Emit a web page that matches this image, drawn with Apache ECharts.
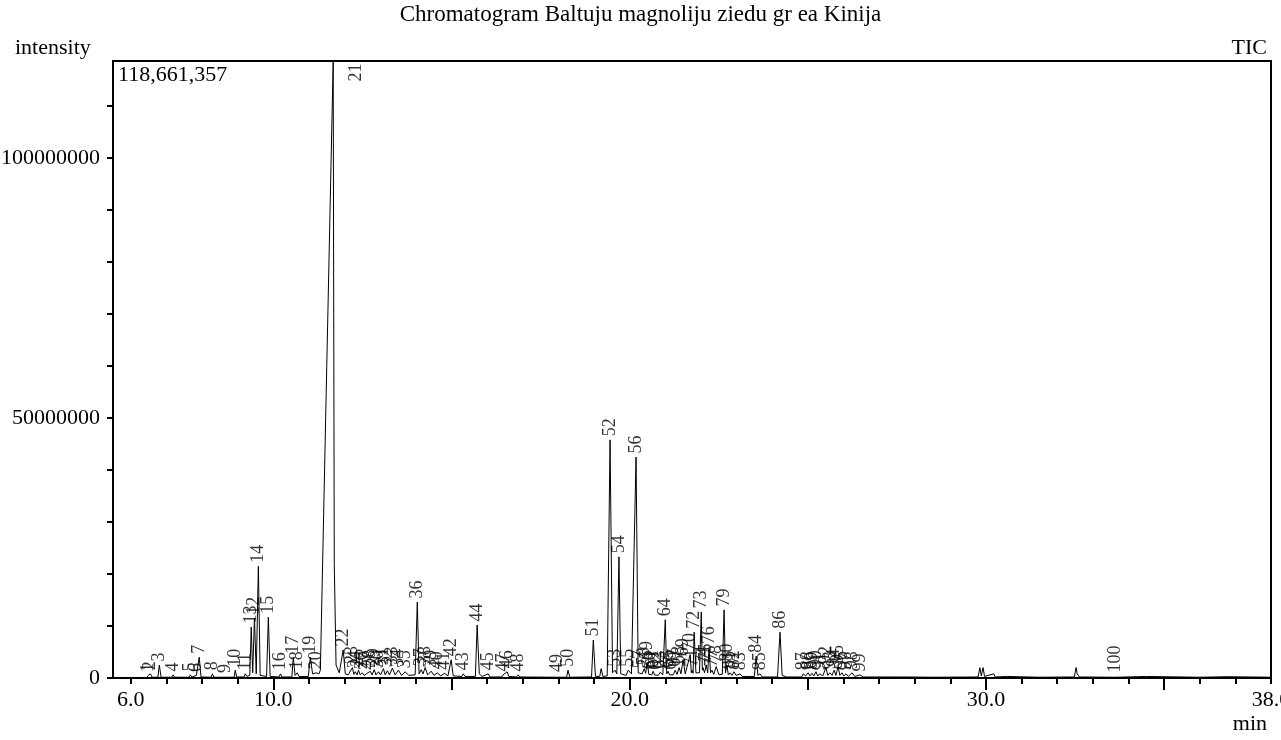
<!DOCTYPE html>
<html>
<head>
<meta charset="utf-8">
<script src="https://cdn.jsdelivr.net/npm/echarts@6/dist/echarts.min.js"></script>
<style>
html,body{margin:0;padding:0;background:#fff;}
#c{width:1281px;height:740px;}
</style>
</head>
<body>
<div id="c"></div>
<script>
// ---- data (time in min, intensity in millions) ----
const chartTitle = 'Chromatogram Baltuju magnoliju ziedu gr ea Kinija';
const yMax = 118661357;
const xMin = 5.5, xMax = 38.0;
const xLabelValues = [6, 10, 20, 30, 38];
const xMinorTicks = [6,7,8,9,10,11,12,13,14,15,16,17,18,19,20,21,22,23,24,25,26,27,28,29,30,31,32,33,34,35,36,37,38];
const xMajorTicks = [10, 15, 20, 25, 30, 35];
const yLabelValues = [0, 50000000, 100000000];
const yTickValues = [0,10000000,20000000,30000000,40000000,50000000,60000000,70000000,80000000,90000000,100000000,110000000];

const traceTime = [5.5,6.0,6.45,6.49,6.52,6.55,6.60,6.76,6.80,6.85,7.15,7.19,7.23,7.63,7.67,7.72,7.84,7.87,7.92,7.97,8.25,8.29,8.33,8.62,8.65,8.68,8.90,8.93,8.97,9.18,9.21,9.26,9.34,9.38,9.42,9.47,9.52,9.58,9.63,9.81,9.86,9.91,10.16,10.20,10.24,10.52,10.56,10.61,10.67,10.72,10.98,11.04,11.10,11.20,11.28,11.32,11.68,11.71,11.76,11.85,11.96,12.02,12.10,12.22,12.26,12.30,12.35,12.39,12.44,12.50,12.55,12.61,12.66,12.72,12.77,12.83,12.88,12.95,13.01,13.09,13.14,13.20,13.26,13.34,13.42,13.51,13.60,13.70,13.80,13.98,14.04,14.09,14.15,14.20,14.26,14.33,14.43,14.51,14.60,14.70,14.80,14.90,14.99,15.05,15.29,15.33,15.38,15.67,15.72,15.78,15.86,16.03,16.08,16.41,16.45,16.50,16.56,16.61,16.83,16.87,16.92,17.93,17.97,18.01,18.23,18.27,18.32,18.93,18.98,19.04,19.16,19.20,19.25,19.37,19.45,19.52,19.59,19.64,19.70,19.75,19.90,19.96,20.05,20.18,20.24,20.29,20.35,20.41,20.45,20.49,20.54,20.58,20.62,20.66,20.70,20.74,20.80,20.86,20.93,21.00,21.04,21.08,21.12,21.16,21.22,21.28,21.33,21.39,21.44,21.50,21.56,21.70,21.73,21.75,21.78,21.81,21.86,21.96,22.01,22.04,22.06,22.10,22.15,22.19,22.23,22.27,22.31,22.36,22.43,22.50,22.60,22.65,22.69,22.73,22.77,22.82,22.87,22.93,22.99,23.10,23.16,23.50,23.55,23.60,23.66,23.72,24.15,24.22,24.28,24.40,24.83,24.87,24.94,25.01,25.06,25.12,25.17,25.23,25.28,25.34,25.42,25.51,25.56,25.62,25.68,25.74,25.79,25.85,25.90,25.96,26.01,26.07,26.14,26.24,26.32,26.47,26.55,27.30,27.33,27.36,27.60,27.63,27.66,28.60,29.78,29.83,29.87,29.92,29.96,30.22,30.26,30.60,31.50,32.48,32.53,32.56,32.62,33.58,33.62,33.66,34.50,34.55,36.0,36.8,38.0];
const traceIntensity = [0.1,0.1,0.1,0.5,0.15,0.8,0.15,0.15,2.5,0.15,0.15,0.6,0.15,0.15,0.6,0.2,0.5,0.3,4.0,0.2,0.15,0.8,0.15,0.15,0.3,0.15,0.15,1.5,0.2,0.2,0.8,0.3,0.5,9.8,1.0,11.5,0.8,21.5,0.5,0.3,11.7,0.3,0.2,0.8,0.2,0.2,4.0,0.5,1.0,0.3,0.3,4.0,0.8,1.0,0.8,1.5,118.661357,22,2.5,1.0,5.4,0.8,0.6,2.0,0.7,1.2,0.6,1.5,0.6,1.0,0.5,0.8,0.5,1.3,0.6,1.6,0.6,1.2,0.6,1.8,0.6,1.4,0.6,1.9,0.6,1.5,0.5,1.2,0.5,0.6,14.6,0.8,1.6,0.8,2.0,0.6,1.3,0.5,1.0,0.4,0.9,0.4,3.5,0.4,0.3,0.8,0.3,0.3,10.2,0.8,0.3,0.8,0.2,0.2,0.6,0.3,1.2,0.3,0.2,0.6,0.2,0.15,0.5,0.15,0.15,1.5,0.15,0.2,7.3,0.3,0.3,1.8,0.3,0.4,45.8,1.0,1.5,0.8,23.3,0.8,0.5,1.5,0.8,42.5,1.0,1.2,0.8,1.8,0.9,3.0,0.7,1.0,0.6,1.3,0.6,0.9,0.5,1.1,0.6,11.2,0.8,1.3,0.6,0.9,0.6,1.5,0.7,2.0,0.8,3.5,0.8,4.5,1.0,1.5,0.9,8.8,1.0,1.0,12.7,1.5,2.0,1.0,2.5,1.0,5.8,1.0,1.5,0.7,2.2,0.7,0.7,13.1,1.0,2.5,0.6,1.0,0.5,1.2,0.5,0.8,0.3,0.3,4.2,0.5,0.8,0.2,0.2,8.8,0.5,0.2,0.2,0.8,0.4,1.0,0.4,0.9,0.4,1.2,0.4,0.8,0.4,2.0,0.5,1.0,0.5,1.5,0.5,2.2,0.5,1.0,0.4,0.8,0.3,1.0,0.3,0.6,0.2,0.2,0.5,0.2,0.2,0.4,0.2,0.15,0.2,2.0,0.4,2.0,0.3,0.8,0.2,0.3,0.15,0.2,2.0,0.8,0.2,0.15,0.4,0.15,0.3,0.15,0.15,0.25,0.15];

const peakNumbers = [1,2,3,4,5,6,7,8,9,10,11,12,13,14,15,16,17,18,19,20,21,22,23,24,25,26,27,28,29,30,31,32,33,34,35,36,37,38,39,40,41,42,43,44,45,46,47,48,49,50,51,52,53,54,55,56,57,58,59,60,61,62,63,64,65,66,67,68,69,70,71,72,73,74,75,76,77,78,79,80,81,82,83,84,85,86,87,88,89,90,91,92,93,94,95,96,97,98,99,100];
const peakTimes = [6.49,6.55,6.80,7.19,7.67,7.84,7.92,8.29,8.65,8.93,9.21,9.47,9.38,9.58,9.86,10.20,10.56,10.67,11.04,11.20,11.68,11.96,12.22,12.30,12.39,12.50,12.61,12.72,12.83,12.95,13.09,13.20,13.34,13.51,13.70,14.04,14.15,14.26,14.43,14.60,14.80,14.99,15.33,15.72,16.03,16.56,16.45,16.87,17.97,18.27,18.98,19.45,19.59,19.70,19.96,20.18,20.29,20.41,20.49,20.58,20.66,20.74,20.86,21.00,21.08,21.16,21.28,21.39,21.50,21.70,21.75,21.81,22.01,22.06,22.15,22.23,22.31,22.43,22.65,22.73,22.82,22.93,23.10,23.55,23.66,24.22,24.87,25.01,25.12,25.23,25.34,25.51,25.62,25.74,25.85,25.96,26.07,26.24,26.47,33.62];
const peakHeights = [0.5,0.8,2.5,0.6,0.6,0.5,4.0,0.8,0.3,1.5,0.8,11.5,9.8,21.5,11.7,0.8,4.0,1.0,4.0,1.0,118.661357,5.4,2.0,1.2,1.5,1.0,0.8,1.3,1.6,1.2,1.8,1.4,1.9,1.5,1.2,14.6,1.6,2.0,1.3,1.0,0.9,3.5,0.8,10.2,0.8,1.2,0.6,0.6,0.5,1.5,7.3,45.8,1.5,23.3,1.5,42.5,1.2,1.8,3.0,1.0,1.3,0.9,1.1,11.2,1.3,0.9,1.5,2.0,3.5,4.5,1.5,8.8,12.7,2.0,2.5,5.8,1.5,2.2,13.1,2.5,1.0,1.2,0.8,4.2,0.8,8.8,0.8,1.0,0.9,1.2,0.8,2.0,1.0,1.5,2.2,1.0,0.8,1.0,0.6,0.4];

// ---- chart ----
const FONT = '"Liberation Serif", "DejaVu Serif", serif';
const M = 1e6;
const traceData = traceTime.map((t, i) => [t, traceIntensity[i] * M]);
const peakData = peakNumbers.map((n, i) => {
  const v = peakHeights[i] * M;
  const item = { value: [peakTimes[i], v, n] };
  if (v >= yMax * 0.99) {
    item.label = { position: [24, 3], align: 'right' };
  }
  return item;
});

const chart = echarts.init(document.getElementById('c'), null, { renderer: 'canvas' });
const txt = { fontFamily: FONT, fontSize: 22, color: '#000', fontWeight: 'normal' };
chart.setOption({
  animation: false,
  backgroundColor: '#fff',
  title: [
    { text: chartTitle, left: 'center', top: -2, textStyle: Object.assign({}, txt, { fontSize: 23 }) },
    { text: 'intensity', left: 10, top: 32, textStyle: txt },
    { text: 'TIC', right: 9, top: 32, textStyle: txt },
    { text: 'min', right: 9, top: 708, textStyle: txt },
    { text: yMax.toLocaleString('en-US'), left: 116, top: 62, textStyle: txt, padding: [2, 2] }
  ],
  grid: { left: 113, right: 10, top: 61, bottom: 62, containLabel: false, outerBoundsMode: 'none', show: true, borderColor: '#000', borderWidth: 2, backgroundColor: 'transparent' },
  xAxis: [
    {
      type: 'value', min: xMin, max: xMax, position: 'bottom', offset: 0,
      axisLine: { show: true, onZero: false, lineStyle: { color: '#000', width: 2 } },
      axisTick: { show: true, customValues: xMinorTicks, length: 6, lineStyle: { color: '#000', width: 2 } },
      axisLabel: { customValues: xLabelValues, formatter: v => v.toFixed(1), margin: 11, fontFamily: FONT, fontSize: 22, color: '#000', hideOverlap: false },
      splitLine: { show: false }
    },
    {
      type: 'value', min: xMin, max: xMax, position: 'bottom', offset: 0,
      axisLine: { show: false, onZero: false },
      axisTick: { show: true, customValues: xMajorTicks, length: 12, lineStyle: { color: '#000', width: 2 } },
      axisLabel: { show: false },
      splitLine: { show: false }
    }
  ],
  yAxis: {
    type: 'value', min: 0, max: yMax,
    axisLine: { show: true, lineStyle: { color: '#000', width: 2 } },
    axisTick: { show: true, customValues: yTickValues, length: 6, lineStyle: { color: '#000', width: 2 } },
    axisLabel: { customValues: yLabelValues, formatter: v => String(v), margin: 13, fontFamily: FONT, fontSize: 22, color: '#000' },
    splitLine: { show: false }
  },
  series: [
    {
      type: 'line', xAxisIndex: 0, data: traceData, symbol: 'none', showSymbol: false,
      lineStyle: { color: '#000', width: 1 }, clip: true, silent: true, z: 3
    },
    {
      type: 'scatter', xAxisIndex: 0, data: peakData, symbol: 'circle', symbolSize: 1,
      itemStyle: { color: 'rgba(0,0,0,0)' }, silent: true, z: 4,
      label: {
        show: true, position: 'top', distance: 3, rotate: 90, align: 'left', verticalAlign: 'middle',
        formatter: p => String(p.value[2]), fontFamily: FONT, fontSize: 18, color: '#000'
      },
      labelLayout: { hideOverlap: false }
    }
  ]
});
</script>
</body>
</html>
